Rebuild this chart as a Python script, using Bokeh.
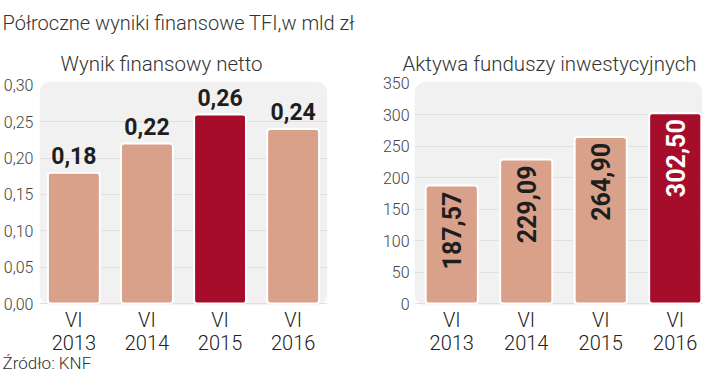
import math
from bokeh.plotting import figure
from bokeh.models import (Range1d, FixedTicker, CustomJSTickFormatter, BoxAnnotation,
                          Title, LinearAxis)
from bokeh.layouts import row
from bokeh.embed import file_html
from bokeh.resources import INLINE
from bokeh.core.properties import value

# ---- data ----
main_title = "Półroczne wyniki finansowe TFI,w mld zł"
left_title = "Wynik finansowy netto"
right_title = "Aktywa funduszy inwestycyjnych"
source_text = "Źródło: KNF"
periods = ["VI", "VI", "VI", "VI"]
years = ["2013", "2014", "2015", "2016"]
net_result = [0.18, 0.22, 0.26, 0.24]
assets = [187.57, 229.09, 264.90, 302.50]
net_ticks = [0.0, 0.05, 0.10, 0.15, 0.20, 0.25, 0.30]
asset_ticks = [0, 50, 100, 150, 200, 250, 300, 350]
net_highlight = "2015"
assets_highlight = "2016"

# ---- style ----
SALMON = "#d9a08a"
DARK = "#a50d2b"
BG = "#f1f1f1"
GRID = "#e0e0e0"
TXT = "#333333"
LIGHT_FONT = "Roboto Light, Roboto"
BOLD_FONT = "Roboto"

def fmt(v, d=2):
    return f"{v:.{d}f}".replace(".", ",")

xs = list(range(len(years)))

def style_axis(ax, size, color):
    ax.axis_line_color = None
    ax.major_tick_line_color = None
    ax.minor_tick_line_color = None
    ax.major_tick_out = 0
    ax.major_tick_in = 0
    ax.minor_tick_out = 0
    ax.minor_tick_in = 0
    ax.major_label_text_font = LIGHT_FONT
    ax.major_label_text_font_size = size
    ax.major_label_text_color = color

def base_fig(width, y_range, x_range, mbl, mbr, source):
    p = figure(width=width, height=374, x_range=x_range, y_range=y_range,
               toolbar_location=None, output_backend="svg",
               min_border_left=mbl, min_border_right=mbr,
               min_border_top=76, min_border_bottom=0,
               outline_line_color=None, background_fill_color="white",
               border_fill_color="white")
    p.add_layout(BoxAnnotation(fill_color=BG, fill_alpha=1, line_color=None,
                               border_radius=12, level="image"))
    p.xgrid.grid_line_color = None
    p.ygrid.grid_line_color = GRID
    p.ygrid.grid_line_width = 1
    # first x axis: "VI"
    p.xaxis.ticker = FixedTicker(ticks=xs)
    p.xaxis.major_label_overrides = {i: t for i, t in enumerate(periods)}
    p.xaxis.major_label_standoff = 2
    style_axis(p.xaxis[0], "20px", "#222222")
    # second x axis: years
    ax2 = LinearAxis(ticker=FixedTicker(ticks=xs),
                     major_label_overrides={i: t for i, t in enumerate(years)},
                     major_label_standoff=0)
    style_axis(ax2, "20px", "#222222")
    p.add_layout(ax2, "below")
    style_axis(p.yaxis[0], "16px", "#444444")
    p.add_layout(Title(text=source, align="left", offset=-37, standoff=0,
                       vertical_align="top",
                       text_font=LIGHT_FONT, text_font_size="17px",
                       text_font_style="normal", text_color=TXT), "below")
    return p

# ---- left chart ----
left = base_fig(360, Range1d(-0.0027, 0.3054), Range1d(-0.47, 3.47), 30, 33, source_text)
left.yaxis.ticker = FixedTicker(ticks=net_ticks)
left.yaxis.formatter = CustomJSTickFormatter(code="return tick.toFixed(2).replace('.', ',')")
left.yaxis.major_label_standoff = 6
left.ygrid.ticker = FixedTicker(ticks=net_ticks[:-1])
left_colors = [DARK if y == net_highlight else SALMON for y in years]
left.vbar(x=xs, top=net_result, bottom=0, width=0.71, fill_color=left_colors,
          line_color="white", line_width=2, border_radius=3)
left.text(x=xs, y=net_result, text=[fmt(v) for v in net_result],
          text_align="center", text_baseline="bottom", y_offset=-9,
          text_font=value(BOLD_FONT), text_font_style="bold",
          text_font_size="23px", text_color="#1e1e1e")
left.add_layout(Title(text=left_title, align="left", offset=21, standoff=12,
                      text_font=LIGHT_FONT, text_font_size="20.5px",
                      text_font_style="normal", text_color=TXT), "above")
left.add_layout(Title(text=main_title, align="left", offset=-37, standoff=17,
                      text_font=LIGHT_FONT, text_font_size="20px",
                      text_font_style="normal", text_color=TXT), "above")

# ---- right chart ----
right = base_fig(344, Range1d(-3, 353), Range1d(-0.5, 3.366), 54, 2, " ")
right.yaxis.ticker = FixedTicker(ticks=asset_ticks)
right.yaxis.major_label_standoff = 5
right.ygrid.ticker = FixedTicker(ticks=asset_ticks[:-1])
right_colors = [DARK if y == assets_highlight else SALMON for y in years]
right_txt = ["white" if y == assets_highlight else "#1e1e1e" for y in years]
right.vbar(x=xs, top=assets, bottom=0, width=0.70, fill_color=right_colors,
           line_color="white", line_width=2, border_radius=3)
right.text(x=xs, y=assets, text=[fmt(v) for v in assets], angle=math.pi / 2,
           text_align="right", text_baseline="middle", y_offset=6,
           text_font=value(BOLD_FONT), text_font_style="bold",
           text_font_size="25px", text_color=right_txt)
right.add_layout(Title(text=right_title, align="left", offset=-12, standoff=12,
                       text_font=LIGHT_FONT, text_font_size="20.5px",
                       text_font_style="normal", text_color=TXT), "above")

layout = row(left, right)
open("out.html", "w").write(file_html(layout, INLINE))
